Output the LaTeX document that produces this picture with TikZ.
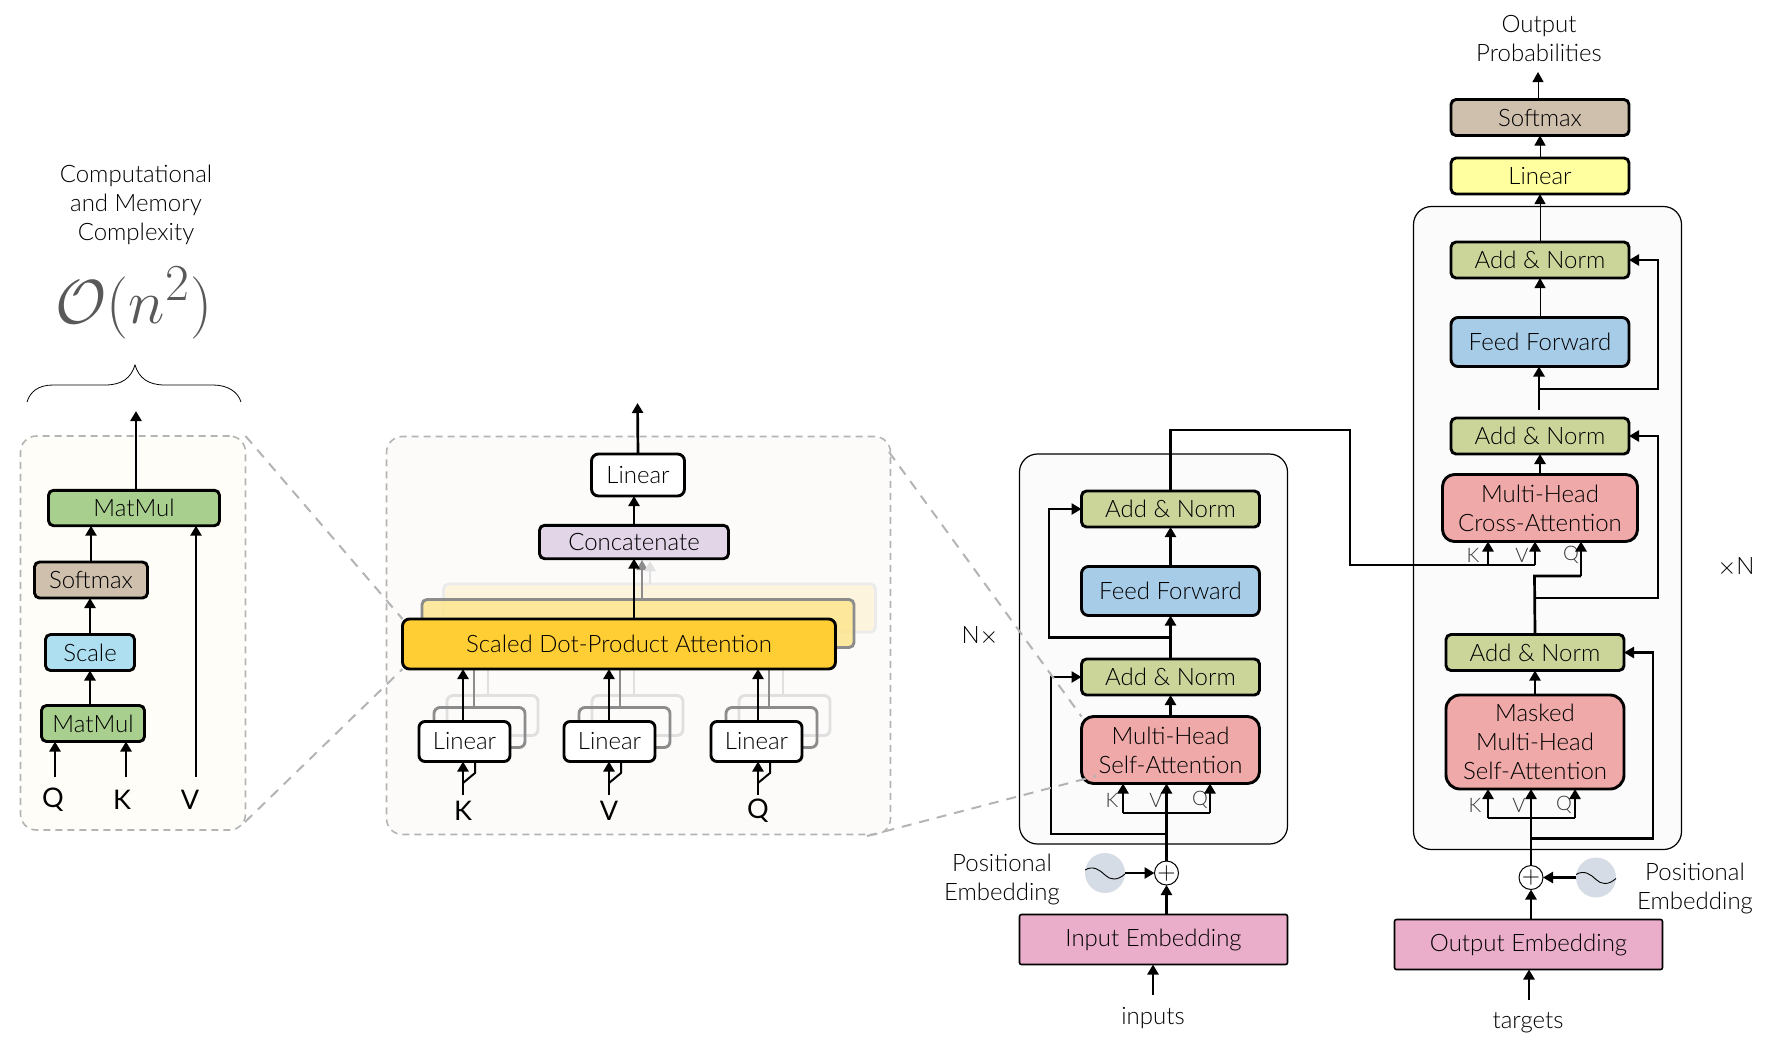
\documentclass[tikz,border=0pt]{standalone}
\usepackage{fontspec}
\setmainfont{Lato}[UprightFont=* Light]
\newfontfamily\letterfont{Lato}
\usepackage{tikz}
\usetikzlibrary{arrows.meta,positioning,calc}

\definecolor{matgreen}{HTML}{A9CF8F}
\definecolor{softtan}{HTML}{CFC0AE}
\definecolor{scaleblue}{HTML}{ADDFF1}
\definecolor{concatlilac}{HTML}{E1D5E7}
\definecolor{dotyellow}{HTML}{FFCE34}
\definecolor{dotmidyellow}{HTML}{FCE58F}
\definecolor{dotbackyellow}{HTML}{FDF4DE}
\definecolor{normgreen}{HTML}{CBD59A}
\definecolor{feedblue}{HTML}{A7CCE8}
\definecolor{headred}{HTML}{EEA9A8}
\definecolor{embedpink}{HTML}{EAADCA}
\definecolor{linyellow}{HTML}{FFFF9F}
\definecolor{sinegray}{HTML}{D5DCE6}
\definecolor{dashgray}{HTML}{B4B4B4}
\definecolor{leftpanelfill}{HTML}{FEFDF8}
\definecolor{midpanelfill}{HTML}{FCFBFA}

\begin{document}
\begin{tikzpicture}[
    x=0.5pt, y=-0.5pt,
    every node/.style={font=\fontsize{12}{14.5}\selectfont, text=black, outer sep=0pt, inner sep=1pt},
    box/.style={rectangle, draw=black, line width=1.45pt, rounded corners=2.5pt, align=center},
    addnorm/.style={box, fill=normgreen, minimum width=89pt, minimum height=18pt},
    feedfwd/.style={box, fill=feedblue, minimum width=89pt, minimum height=24.5pt, rounded corners=3.5pt},
    multihead/.style={box, fill=headred, minimum width=89pt, minimum height=33.5pt, rounded corners=6pt},
    embed/.style={rectangle, draw=black, line width=0.8pt, rounded corners=1pt, fill=embedpink, minimum width=134pt, minimum height=25pt},
    linearbox/.style={box, fill=white, minimum width=45.5pt, minimum height=20pt, rounded corners=3pt},
    matmul/.style={box, fill=matgreen},
    panel/.style={rectangle, draw=dashgray, line width=0.8pt, dash pattern=on 3.5pt off 2.5pt, rounded corners=8pt},
    stackblock/.style={rectangle, draw=black, line width=0.6pt, fill=black!1.5, rounded corners=9pt},
    plusnode/.style={circle, draw=black, line width=0.5pt, fill=white, minimum size=11pt, inner sep=0pt},
    sinenode/.style={circle, fill=sinegray, minimum size=20pt, inner sep=0pt},
    keylabel/.style={font=\fontsize{10}{11}\selectfont, text=black!80},
    letter/.style={font=\letterfont\fontsize{13.5}{14}\selectfont, text=black},
    arrow/.style={line width=1.35pt, -{Triangle[length=5pt,width=5.5pt]}},
    thinarrow/.style={line width=0.5pt, -{Triangle[length=5pt,width=5.5pt]}},
    wire/.style={line width=1.35pt},
    zoomline/.style={draw=dashgray, line width=1pt, dash pattern=on 5pt off 4pt},
    sinewave/.pic={\draw[line width=0.45pt] (-20,-3) .. controls (-12,-8) and (-5,-3) .. (0,2) .. controls (5,7) and (12,8) .. (20,1);}
]
    \useasboundingbox (0,0) rectangle (1771,1045);

    % Complexity note
    \node[align=center] (note) at (136,205) {Computational\\and Memory\\Complexity};
    \node[text=black!65] (bigo) at (134,303) {\scalebox{1.25}{\Huge$\mathcal{O}(n^2)$}};
    \draw[line width=0.4pt] (27,402) .. controls (30,392) and (38,385) .. (53,385) -- (105,385) .. controls (122,385) and (131,378) .. (135,365) .. controls (139,378) and (148,385) .. (165,385) -- (213,385) .. controls (228,385) and (238,392) .. (241,402);

    % Left panel
    \node[panel, fill=leftpanelfill, minimum width=112.5pt, minimum height=197pt] (leftpanel) at (133,633) {};
    \node[matmul, minimum width=85.5pt, minimum height=17.7pt] (matmultop) at (134,508) {MatMul};
    \node[box, fill=softtan, minimum width=56.5pt, minimum height=18pt] (softleft) at (91,580) {Softmax};
    \node[box, fill=scaleblue, minimum width=44.5pt, minimum height=18pt] (scaleleft) at (90,652.5) {Scale};
    \node[matmul, minimum width=51.5pt, minimum height=18pt] (matmullow) at (93,723.5) {MatMul};
    \node[letter] (qleft) at (53,800) {Q};
    \node[letter] (kleft) at (122,800) {K};
    \node[letter] (vleft) at (190,800) {V};
    \coordinate (qtail) at (55,777);
    \coordinate (ktail) at (126,777);
    \coordinate (vtail) at (196,777);
    \coordinate (lefthead) at (136,411);
    \draw[arrow] (qtail) -- (qtail |- matmullow.south);
    \draw[arrow] (ktail) -- (ktail |- matmullow.south);
    \draw[arrow] (vtail) -- (vtail |- matmultop.south);
    \draw[arrow] (matmullow.north -| scaleleft.north) -- (scaleleft.south);
    \draw[arrow] (scaleleft.north) -- (softleft.south -| scaleleft.north);
    \draw[arrow] (softleft.north) -- (softleft.north |- matmultop.south);
    \draw[arrow] (matmultop.north -| lefthead) -- (lefthead);

    % Middle panel
    \node[panel, fill=midpanelfill, minimum width=252pt, minimum height=199pt] (midpanel) at (638.5,635.5) {};
    \node[box, draw=black!8, fill=dotbackyellow, minimum width=216pt, minimum height=24pt] (dotback) at (659.5,608) {};
    \node[box, draw=black!45, fill=dotmidyellow, fill opacity=0.85, minimum width=216pt, minimum height=24pt] (dotmid) at (638,623.5) {};
    \coordinate (concatmid) at (642,560);
    \coordinate (concatback) at (650,561);
    \draw[thinarrow, line width=0.9pt, draw=black!45, fill=black!45] (dotmid.north -| concatmid) -- (concatmid);
    \draw[thinarrow, line width=0.9pt, draw=black!12, fill=black!12] (dotback.north -| concatback) -- (concatback);
    \foreach \name/\x/\lin/\lab in {k/463/464.5/K, v/609/609.5/V, q/758/756.5/Q}{
        \node[box, draw=black!12, minimum width=45.5pt, minimum height=20pt, rounded corners=3pt] (lin\name back) at (\lin+28,715.5) {};
        \node[box, draw=black!45, minimum width=45.5pt, minimum height=20pt, rounded corners=3pt] (lin\name mid) at (\lin+15,727.5) {};
        \draw[line width=0.9pt, black!12] (lin\name back.north -| {\x+25,0}) -- ++(0,-26);
        \draw[line width=0.9pt, black!45] (lin\name mid.north -| {\x+11,0}) -- ++(0,-38);
    }
    \node[box, fill=dotyellow, minimum width=216.5pt, minimum height=25pt, rounded corners=3.5pt] (dotfront) at (619,644) {Scaled Dot-Product Attention};
    \foreach \name/\x/\lin/\lab in {k/463/464.5/K, v/609/609.5/V, q/758/756.5/Q}{
        \node[linearbox] (lin\name) at (\lin,741.5) {Linear};
        \node[letter] (lab\name) at (\x,811) {\lab};
        \coordinate (tail\name) at (\x,795);
        \coordinate (fork\name) at (\x,783);
        \coordinate (bend\name) at (\x+12,773);
        \draw[arrow] (tail\name) -- (tail\name |- lin\name.south);
        \draw[line width=1pt] (fork\name) -- (bend\name) -- (bend\name |- lin\name.south);
        \draw[arrow] (lin\name.north -| tail\name) -- (tail\name |- dotfront.south);
    }
    \node[box, fill=concatlilac, minimum width=94.5pt, minimum height=16.7pt] (concat) at (634,542) {Concatenate};
    \node[linearbox, minimum width=46.5pt, minimum height=21pt, rounded corners=3.5pt] (lintop) at (638,475) {Linear};
    \coordinate (midhead) at (637.5,403);
    \draw[arrow] (dotfront.north -| concat.south) -- (concat.south);
    \draw[arrow] (concat.north) -- (concat.north |- lintop.south);
    \draw[arrow] (lintop.north) -- (midhead);

    % Encoder
    \node[stackblock, minimum width=134pt, minimum height=195pt] (encblock) at (1153.5,649) {};
    \node[multihead] (enchead) at (1170.5,750) {Multi-Head\\Self-Attention};
    \node[addnorm, above=10.75pt of enchead] (encnormlow) {Add \& Norm};
    \node[feedfwd, above=21.75pt of encnormlow] (encfeed) {Feed Forward};
    \node[addnorm, above=19.75pt of encfeed] (encnormtop) {Add \& Norm};
    \node[embed] (inembed) at (1153.5,939.5) {Input Embedding};
    \node[plusnode] (plusleft) at (1166.5,873) {$+$};
    \node[sinenode] (sineleft) at (1105,873) {};
    \pic at (sineleft) {sinewave};
    \node[align=center] (posleft) at (1002,879) {Positional\\Embedding};
    \node (inputs) at (1153,1018) {inputs};
    \node (nx) at (980,636) {N$\times$};
    \coordinate (inputtail) at (1153,995);
    \coordinate (encfork) at (1166.5,813);
    \coordinate (enck) at (1123,813);
    \coordinate (encq) at (1210,813);
    \coordinate (encskip) at (1166.5,834);
    \coordinate (encskipout) at (1051,834);
    \coordinate (encmid) at (1170.5,637.5);
    \coordinate (encmidout) at (1049,637.5);
    \coordinate (crossturn) at (1170.5,430);
    \coordinate (crossturnb) at (1350,430);
    \coordinate (crossturnc) at (1350,565);
    \coordinate (crosskey) at (1488,565);
    \coordinate (crossval) at (1535,565);
    \node[keylabel] (encklab) at (1112,800) {K};
    \node[keylabel] (encvlab) at (1156,800) {V};
    \node[keylabel] (encqlab) at (1200,800) {Q};
    \draw[arrow] (inputtail) -- (inembed.south -| inputtail);
    \draw[arrow] (inembed.north -| plusleft) -- (plusleft.south);
    \draw[arrow] (sineleft.east) -- (plusleft.west);
    \draw[arrow] (plusleft.north) -- (plusleft.north |- enchead.south);
    \draw[arrow] (enck -| encq) -- (encq |- enchead.south);
    \draw[arrow] (encq -| enck) -- (enck |- enchead.south);
    \draw[wire] (enck) -- (encq);
    \draw[arrow] (encskip) -- (encskipout) -- (encskipout |- encnormlow.west) -- (encnormlow.west);
    \draw[arrow] (enchead.north) -- (encnormlow.south);
    \draw[arrow] (encnormlow.north) -- (encfeed.south);
    \draw[arrow] (encmid) -- (encmidout) -- (encmidout |- encnormtop.west) -- (encnormtop.west);
    \draw[arrow, line width=1.1pt] (encfeed.north) -- (encnormtop.south);

    % Decoder
    \node[stackblock, minimum width=134pt, minimum height=321.5pt] (decblock) at (1547.5,528) {};
    \node[multihead, minimum height=47pt, rounded corners=7pt] (decmasked) at (1535,742) {Masked\\Multi-Head\\Self-Attention};
    \node[addnorm, above=12.25pt of decmasked] (decnormlow) {Add \& Norm};
    \node[multihead, minimum width=97.5pt] (deccross) at (1540,508) {Multi-Head\\Cross-Attention};
    \node[addnorm, above=10.25pt of deccross] (decnormmid) {Add \& Norm};
    \node[feedfwd, above=25.75pt of decnormmid] (decfeed) {Feed Forward};
    \node[addnorm, above=19.75pt of decfeed] (decnormtop) {Add \& Norm};
    \node[box, fill=linyellow, minimum width=89pt, minimum height=18pt, above=24pt of decnormtop] (declinear) {Linear};
    \node[box, fill=softtan, minimum width=89pt, minimum height=18pt, above=11.25pt of declinear] (decsoft) {Softmax};
    \node[embed] (outembed) at (1528.5,944.5) {Output Embedding};
    \node[plusnode] (plusright) at (1531,877.5) {$+$};
    \node[sinenode] (sineright) at (1596,877.5) {};
    \pic at (sineright) {sinewave};
    \node[align=center] (posright) at (1695,888) {Positional\\Embedding};
    \node (targets) at (1528,1023) {targets};
    \node (xn) at (1736,567) {$\times$N};
    \node[align=center] (outprob) at (1539,39) {Output\\Probabilities};
    \coordinate (targettail) at (1529,1000);
    \coordinate (deck) at (1488,818);
    \coordinate (decq) at (1575,818);
    \coordinate (decskip) at (1531,838.5);
    \coordinate (decskipout) at (1653,838.5);
    \coordinate (querystep) at (1534.5,576);
    \coordinate (querytop) at (1581,576);
    \coordinate (midskip) at (1534.5,598);
    \coordinate (midskipout) at (1658,598);
    \coordinate (feedstub) at (1539,410);
    \coordinate (topskip) at (1539,389);
    \coordinate (topskipout) at (1658,389);
    \coordinate (probhead) at (1538,72);
    \node[keylabel] (deckmask) at (1475,805) {K};
    \node[keylabel] (decvmask) at (1519,805) {V};
    \node[keylabel] (decqmask) at (1564,805) {Q};
    \node[keylabel] (deckcross) at (1473,555) {K};
    \node[keylabel] (decvcross) at (1522,555) {V};
    \node[keylabel] (decqcross) at (1571,555) {Q};
    \draw[arrow] (targettail) -- (outembed.south -| targettail);
    \draw[arrow] (outembed.north -| plusright) -- (plusright.south);
    \draw[arrow] (sineright.west) -- (plusright.east);
    \draw[arrow] (plusright.north) -- (plusright.north |- decmasked.south);
    \draw[arrow] (deck -| decq) -- (decq |- decmasked.south);
    \draw[arrow] (decq -| deck) -- (deck |- decmasked.south);
    \draw[wire] (deck) -- (decq);
    \draw[arrow] (decskip) -- (decskipout) -- (decskipout |- decnormlow.east) -- (decnormlow.east);
    \draw[arrow, line width=1.1pt] (decmasked.north) -- (decnormlow.south);
    \draw[wire] (decnormlow.north) -- (querystep) -- (querytop);
    \draw[arrow] (querytop) -- (querytop |- deccross.south);
    \draw[arrow] (midskip) -- (midskipout) -- (midskipout |- decnormmid.east) -- (decnormmid.east);
    % Encoder output into cross-attention
    \draw[wire] (encnormtop.north) -- (crossturn) -- (crossturnb) -- (crossturnc) -- (crossval);
    \draw[arrow] (crossval) -- (crossval |- deccross.south);
    \draw[arrow] (crosskey) -- (crosskey |- deccross.south);
    \draw[arrow] (deccross.north) -- (decnormmid.south);
    \draw[arrow] (feedstub) -- (feedstub |- decfeed.south);
    \draw[arrow] (topskip) -- (topskipout) -- (topskipout |- decnormtop.east) -- (decnormtop.east);
    \draw[thinarrow] (decfeed.north) -- (decnormtop.south);
    \draw[thinarrow] (decnormtop.north) -- (declinear.south);
    \draw[thinarrow] (declinear.north) -- (decsoft.south);
    \draw[thinarrow] (decsoft.north -| probhead) -- (probhead);

    % Zoom lines between panels
    \coordinate (midne) at (889,452);
    \coordinate (midse) at (867,836);
    \coordinate (headlow) at (1096,776);
    \coordinate (leftse) at (245,822);
    \draw[zoomline] (leftpanel.north east) -- (dotfront.north west);
    \draw[zoomline] (leftse) -- (dotfront.south west);
    \draw[zoomline] (midne) -- (enchead.north west);
    \draw[zoomline] (midse) -- (headlow);
\end{tikzpicture}
\end{document}
